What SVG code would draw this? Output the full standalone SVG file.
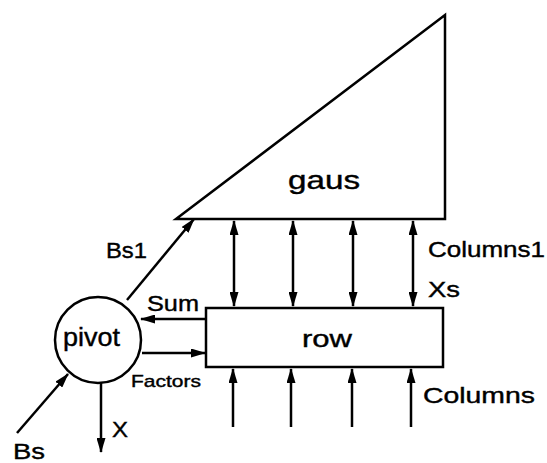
<svg xmlns="http://www.w3.org/2000/svg" width="547" height="463" viewBox="0 0 547 463">
<style>
.shape{fill:#fff;stroke:#000;stroke-width:2.5}
.conn{stroke:#000;stroke-width:2.5;fill:none}
.lbl{font-family:"Liberation Sans",Arial,sans-serif;fill:#000;stroke:#000;stroke-width:0.4}
</style>
<defs>
<marker id="ah" markerUnits="userSpaceOnUse" markerWidth="15" markerHeight="9" refX="14" refY="4.5" orient="auto-start-reverse">
<path d="M0,0 L15,4.5 L0,9 z" fill="#000"/>
</marker>
</defs>
<rect width="547" height="463" fill="#fff"/>
<g id="gaus">
<polygon class="shape" points="176,219 445,15 445,219"/>
<text class="lbl" x="288" y="189" font-size="26" textLength="72" lengthAdjust="spacingAndGlyphs">gaus</text>
</g>
<g id="row">
<rect class="shape" x="206" y="308" width="237" height="59"/>
<text class="lbl" x="302" y="347" font-size="24" textLength="50" lengthAdjust="spacingAndGlyphs">row</text>
</g>
<g id="pivot">
<circle class="shape" cx="98" cy="340" r="43"/>
<text class="lbl" x="63" y="346" font-size="25" textLength="57" lengthAdjust="spacingAndGlyphs">pivot</text>
</g>
<g id="connectors">
<line class="conn" x1="234" y1="221" x2="234" y2="306" marker-start="url(#ah)" marker-end="url(#ah)"/>
<line class="conn" x1="293" y1="221" x2="293" y2="306" marker-start="url(#ah)" marker-end="url(#ah)"/>
<line class="conn" x1="353" y1="221" x2="353" y2="306" marker-start="url(#ah)" marker-end="url(#ah)"/>
<line class="conn" x1="413" y1="221" x2="413" y2="306" marker-start="url(#ah)" marker-end="url(#ah)"/>
<line class="conn" x1="233" y1="427" x2="233" y2="369" marker-end="url(#ah)"/>
<line class="conn" x1="291" y1="427" x2="291" y2="369" marker-end="url(#ah)"/>
<line class="conn" x1="352" y1="427" x2="352" y2="369" marker-end="url(#ah)"/>
<line class="conn" x1="411" y1="427" x2="411" y2="369" marker-end="url(#ah)"/>
<line class="conn" x1="127" y1="300" x2="194" y2="219" marker-end="url(#ah)"/>
<line class="conn" x1="206" y1="319" x2="141" y2="319" marker-end="url(#ah)"/>
<line class="conn" x1="142" y1="353" x2="205" y2="353" marker-end="url(#ah)"/>
<line class="conn" x1="17" y1="433" x2="68" y2="374" marker-end="url(#ah)"/>
<line class="conn" x1="101" y1="383" x2="101" y2="452" marker-end="url(#ah)"/>
</g>
<g id="labels">
<text class="lbl" x="428" y="257" font-size="22" textLength="117" lengthAdjust="spacingAndGlyphs">Columns1</text>
<text class="lbl" x="428" y="297" font-size="22" textLength="32" lengthAdjust="spacingAndGlyphs">Xs</text>
<text class="lbl" x="423" y="403" font-size="22" textLength="112" lengthAdjust="spacingAndGlyphs">Columns</text>
<text class="lbl" x="106" y="258" font-size="22" textLength="41" lengthAdjust="spacingAndGlyphs">Bs1</text>
<text class="lbl" x="147" y="311" font-size="22" textLength="52" lengthAdjust="spacingAndGlyphs">Sum</text>
<text class="lbl" x="131" y="387" font-size="17" textLength="70" lengthAdjust="spacingAndGlyphs">Factors</text>
<text class="lbl" x="112" y="437" font-size="22" textLength="16" lengthAdjust="spacingAndGlyphs">X</text>
<text class="lbl" x="13" y="459" font-size="22" textLength="32" lengthAdjust="spacingAndGlyphs">Bs</text>
</g>
</svg>
